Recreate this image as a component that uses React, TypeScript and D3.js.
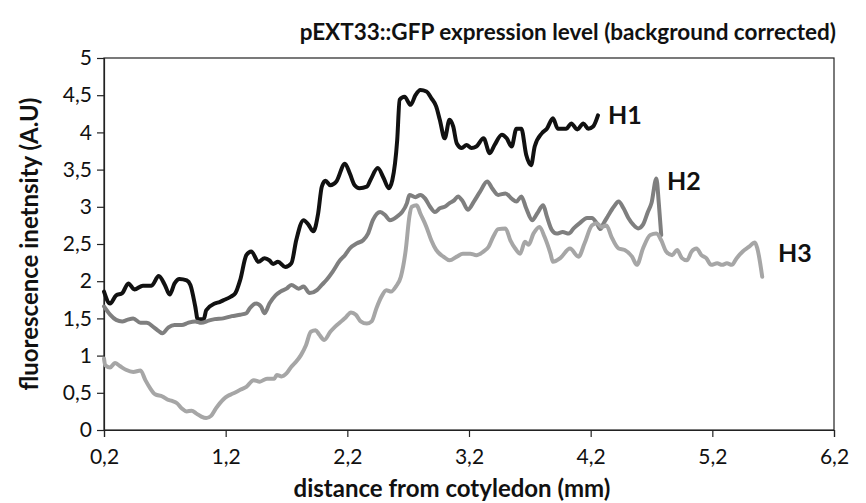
import * as d3 from "d3";
import { useRef, useEffect } from "react";

type Pt = [number, number]; // [distance mm, intensity]

const seriesNames = ["H1", "H2", "H3"];
const seriesColors = ["#111111", "#7f7f7f", "#a6a6a6"];

const xTicks = [0.2, 1.2, 2.2, 3.2, 4.2, 5.2, 6.2];
const yTicks = [0, 0.5, 1, 1.5, 2, 2.5, 3, 3.5, 4, 4.5, 5];

const h1: Pt[] = [
  [0.2, 1.86], [0.25, 1.7], [0.3, 1.81], [0.35, 1.84], [0.4, 1.97], [0.45, 1.89],
  [0.52, 1.94], [0.59, 1.94], [0.65, 2.07], [0.7, 1.95], [0.74, 1.82], [0.78, 1.97],
  [0.82, 2.03], [0.88, 2.01], [0.91, 1.95], [0.95, 1.66], [0.97, 1.49], [1.02, 1.49],
  [1.04, 1.61], [1.11, 1.7], [1.15, 1.72], [1.19, 1.75], [1.24, 1.79], [1.28, 1.84],
  [1.32, 2.02], [1.37, 2.35], [1.41, 2.4], [1.47, 2.26], [1.52, 2.31], [1.56, 2.28],
  [1.59, 2.23], [1.63, 2.26], [1.69, 2.19], [1.74, 2.24], [1.78, 2.55], [1.84, 2.82],
  [1.88, 2.76], [1.92, 2.67], [1.96, 2.91], [1.99, 3.27], [2.02, 3.35], [2.06, 3.29],
  [2.11, 3.34], [2.18, 3.58], [2.22, 3.45], [2.26, 3.29], [2.3, 3.25], [2.36, 3.27],
  [2.39, 3.36], [2.45, 3.52], [2.5, 3.38], [2.54, 3.25], [2.57, 3.36], [2.61, 3.9],
  [2.63, 4.44], [2.67, 4.48], [2.72, 4.37], [2.76, 4.5], [2.8, 4.57], [2.85, 4.55],
  [2.89, 4.46], [2.93, 4.35], [2.96, 4.17], [3.0, 3.92], [3.04, 4.17], [3.07, 4.08],
  [3.1, 3.85], [3.14, 3.79], [3.18, 3.83], [3.22, 3.79], [3.26, 3.81], [3.32, 3.92],
  [3.37, 3.72], [3.41, 3.83], [3.47, 3.97], [3.51, 3.92], [3.55, 3.81], [3.59, 4.05],
  [3.63, 4.05], [3.67, 3.7], [3.71, 3.56], [3.74, 3.81], [3.8, 3.99], [3.84, 4.05],
  [3.89, 4.19], [3.93, 4.05], [4.0, 4.05], [4.04, 4.12], [4.09, 4.04], [4.14, 4.12],
  [4.18, 4.05], [4.22, 4.08], [4.26, 4.23],
];

const h2: Pt[] = [
  [0.2, 1.66], [0.25, 1.55], [0.3, 1.48], [0.35, 1.46], [0.39, 1.48], [0.44, 1.5],
  [0.5, 1.44], [0.55, 1.44], [0.61, 1.38], [0.65, 1.33], [0.68, 1.3], [0.73, 1.38],
  [0.78, 1.41], [0.84, 1.41], [0.89, 1.44], [0.95, 1.46], [1.0, 1.44], [1.06, 1.47],
  [1.11, 1.49], [1.18, 1.5], [1.25, 1.53], [1.32, 1.55], [1.37, 1.57], [1.4, 1.64],
  [1.45, 1.7], [1.49, 1.66], [1.52, 1.57], [1.56, 1.7], [1.61, 1.81], [1.65, 1.86],
  [1.7, 1.9], [1.74, 1.95], [1.8, 1.9], [1.84, 1.93], [1.89, 1.84], [1.95, 1.88],
  [1.99, 1.95], [2.03, 2.02], [2.08, 2.13], [2.14, 2.28], [2.18, 2.35], [2.22, 2.44],
  [2.28, 2.51], [2.33, 2.55], [2.37, 2.64], [2.41, 2.82], [2.47, 2.93], [2.51, 2.89],
  [2.55, 2.82], [2.61, 2.87], [2.65, 2.93], [2.69, 3.05], [2.71, 3.16], [2.76, 3.13],
  [2.8, 3.16], [2.84, 3.11], [2.88, 3.0], [2.92, 2.93], [2.96, 2.98], [3.0, 3.0],
  [3.04, 3.05], [3.08, 3.09], [3.11, 3.14], [3.15, 3.07], [3.19, 2.96], [3.24, 3.07],
  [3.29, 3.2], [3.35, 3.34], [3.39, 3.25], [3.44, 3.16], [3.5, 3.18], [3.55, 3.11],
  [3.59, 3.07], [3.63, 3.14], [3.67, 2.98], [3.72, 2.82], [3.76, 2.91], [3.81, 3.02],
  [3.84, 2.87], [3.88, 2.69], [3.92, 2.64], [3.97, 2.66], [4.02, 2.64], [4.06, 2.71],
  [4.11, 2.78], [4.17, 2.85], [4.21, 2.85], [4.25, 2.78], [4.28, 2.7], [4.3, 2.76],
  [4.34, 2.87], [4.39, 3.0], [4.43, 3.07], [4.47, 2.98], [4.51, 2.85], [4.55, 2.76],
  [4.59, 2.71], [4.63, 2.76], [4.67, 2.93], [4.7, 3.05], [4.74, 3.38], [4.76, 3.05],
  [4.78, 2.62],
];

const h3: Pt[] = [
  [0.2, 0.96], [0.21, 0.87], [0.25, 0.84], [0.29, 0.9], [0.33, 0.86], [0.38, 0.81],
  [0.44, 0.78], [0.5, 0.8], [0.54, 0.67], [0.58, 0.56], [0.62, 0.48], [0.68, 0.45],
  [0.72, 0.41], [0.76, 0.39], [0.8, 0.36], [0.84, 0.29], [0.88, 0.25], [0.92, 0.26],
  [0.96, 0.22], [1.0, 0.18], [1.04, 0.16], [1.08, 0.19], [1.12, 0.29], [1.18, 0.41],
  [1.22, 0.46], [1.26, 0.49], [1.32, 0.54], [1.37, 0.58], [1.43, 0.67], [1.48, 0.65],
  [1.54, 0.69], [1.6, 0.69], [1.62, 0.74], [1.66, 0.72], [1.7, 0.76], [1.74, 0.85],
  [1.78, 0.92], [1.82, 1.01], [1.86, 1.14], [1.9, 1.32], [1.94, 1.34], [1.97, 1.28],
  [2.01, 1.21], [2.06, 1.32], [2.1, 1.39], [2.15, 1.46], [2.19, 1.52], [2.23, 1.58],
  [2.27, 1.55], [2.31, 1.46], [2.36, 1.43], [2.4, 1.46], [2.44, 1.64], [2.48, 1.79],
  [2.52, 1.88], [2.56, 1.86], [2.6, 1.93], [2.64, 2.06], [2.68, 2.42], [2.71, 2.87],
  [2.73, 3.0], [2.77, 3.02], [2.8, 2.91], [2.85, 2.73], [2.89, 2.55], [2.93, 2.42],
  [2.99, 2.33], [3.04, 2.28], [3.1, 2.33], [3.15, 2.37], [3.21, 2.37], [3.26, 2.35],
  [3.32, 2.4], [3.36, 2.46], [3.4, 2.6], [3.44, 2.7], [3.5, 2.71], [3.54, 2.55],
  [3.58, 2.44], [3.62, 2.37], [3.66, 2.53], [3.69, 2.49], [3.73, 2.64], [3.78, 2.73],
  [3.82, 2.6], [3.87, 2.37], [3.89, 2.26], [3.95, 2.31], [4.03, 2.44], [4.1, 2.33],
  [4.15, 2.51], [4.21, 2.75], [4.25, 2.78], [4.29, 2.73], [4.33, 2.75], [4.37, 2.6],
  [4.43, 2.44], [4.48, 2.42], [4.54, 2.33], [4.58, 2.22], [4.63, 2.44], [4.69, 2.62],
  [4.74, 2.64], [4.78, 2.55], [4.82, 2.4], [4.87, 2.35], [4.91, 2.42], [4.95, 2.31],
  [4.99, 2.28], [5.03, 2.4], [5.07, 2.44], [5.11, 2.35], [5.15, 2.31], [5.19, 2.22],
  [5.24, 2.24], [5.28, 2.22], [5.32, 2.24], [5.36, 2.22], [5.4, 2.31], [5.45, 2.4],
  [5.5, 2.46], [5.55, 2.52], [5.57, 2.44], [5.61, 2.06],
];

const series = [h1, h2, h3];

const FONT = "Lato, 'Open Sans', sans-serif";
const fmt = (n: number) => d3.format("~g")(n).replace(".", ",");

export default function App() {
  const svgRef = useRef<SVGSVGElement | null>(null);

  useEffect(() => {
    const W = 866;
    const H = 503;
    const svg = d3.select(svgRef.current);
    svg.selectAll("*").remove();
    svg.attr("viewBox", `0 0 ${W} ${H}`);

    const x = d3.scaleLinear().domain([0.2, 6.2]).range([104, 834]);
    const y = d3.scaleLinear().domain([0, 5]).range([430, 58]);

    svg.append("rect").attr("width", W).attr("height", H).attr("fill", "white");

    // plot frame
    svg.append("rect")
      .attr("x", x(0.2))
      .attr("y", y(5))
      .attr("width", x(6.2) - x(0.2))
      .attr("height", y(0) - y(5))
      .attr("fill", "none")
      .attr("stroke", "#222")
      .attr("stroke-width", 1.2);

    const xAxis = svg.append("g")
      .attr("transform", `translate(0,${y(0)})`)
      .call(d3.axisBottom(x).tickValues(xTicks).tickFormat(d => fmt(+d)).tickSize(7).tickPadding(12));
    const yAxis = svg.append("g")
      .attr("transform", `translate(${x(0.2)},0)`)
      .call(d3.axisLeft(y).tickValues(yTicks).tickFormat(d => fmt(+d)).tickSize(7).tickPadding(5));

    [xAxis, yAxis].forEach(a => {
      a.select(".domain").attr("stroke", "#222").attr("stroke-width", 1.2);
      a.selectAll(".tick line").attr("stroke", "#222").attr("stroke-width", 1.2);
      a.selectAll(".tick text")
        .attr("font-family", FONT)
        .attr("font-size", 21)
        .attr("fill", "#111");
    });

    const line = d3.line<Pt>()
      .x(d => x(d[0]))
      .y(d => y(d[1]))
      .curve(d3.curveMonotoneX);

    svg.append("g")
      .selectAll("path")
      .data(series)
      .join("path")
      .attr("d", d => line(d))
      .attr("fill", "none")
      .attr("stroke", (_, i) => seriesColors[i])
      .attr("stroke-width", 4)
      .attr("stroke-linejoin", "round")
      .attr("stroke-linecap", "round");

    // series labels next to line ends
    const labelPos: Pt[] = [[608, 124], [667, 190], [778, 262]];
    svg.append("g")
      .selectAll("text")
      .data(seriesNames)
      .join("text")
      .attr("x", (_, i) => labelPos[i][0])
      .attr("y", (_, i) => labelPos[i][1])
      .attr("font-family", FONT)
      .attr("font-weight", 700)
      .attr("font-size", 25)
      .attr("fill", "#111")
      .text(d => d);

    svg.append("text")
      .attr("x", 836)
      .attr("y", 40)
      .attr("text-anchor", "end")
      .attr("font-family", FONT)
      .attr("font-weight", 700)
      .attr("font-size", 22.5)
      .attr("fill", "#111")
      .text("pEXT33::GFP expression level (background corrected)");

    svg.append("text")
      .attr("x", 452)
      .attr("y", 497)
      .attr("text-anchor", "middle")
      .attr("font-family", FONT)
      .attr("font-weight", 700)
      .attr("font-size", 24)
      .attr("fill", "#111")
      .text("distance from cotyledon (mm)");

    svg.append("text")
      .attr("transform", `translate(38,${(y(0) + y(5)) / 2}) rotate(-90)`)
      .attr("text-anchor", "middle")
      .attr("font-family", FONT)
      .attr("font-weight", 700)
      .attr("font-size", 24)
      .attr("fill", "#111")
      .text("fluorescence inetnsity (A.U)");
  }, []);

  return (
    <svg
      ref={svgRef}
      width={866}
      height={503}
      style={{ position: "absolute", left: 0, top: 0, display: "block" }}
    />
  );
}
